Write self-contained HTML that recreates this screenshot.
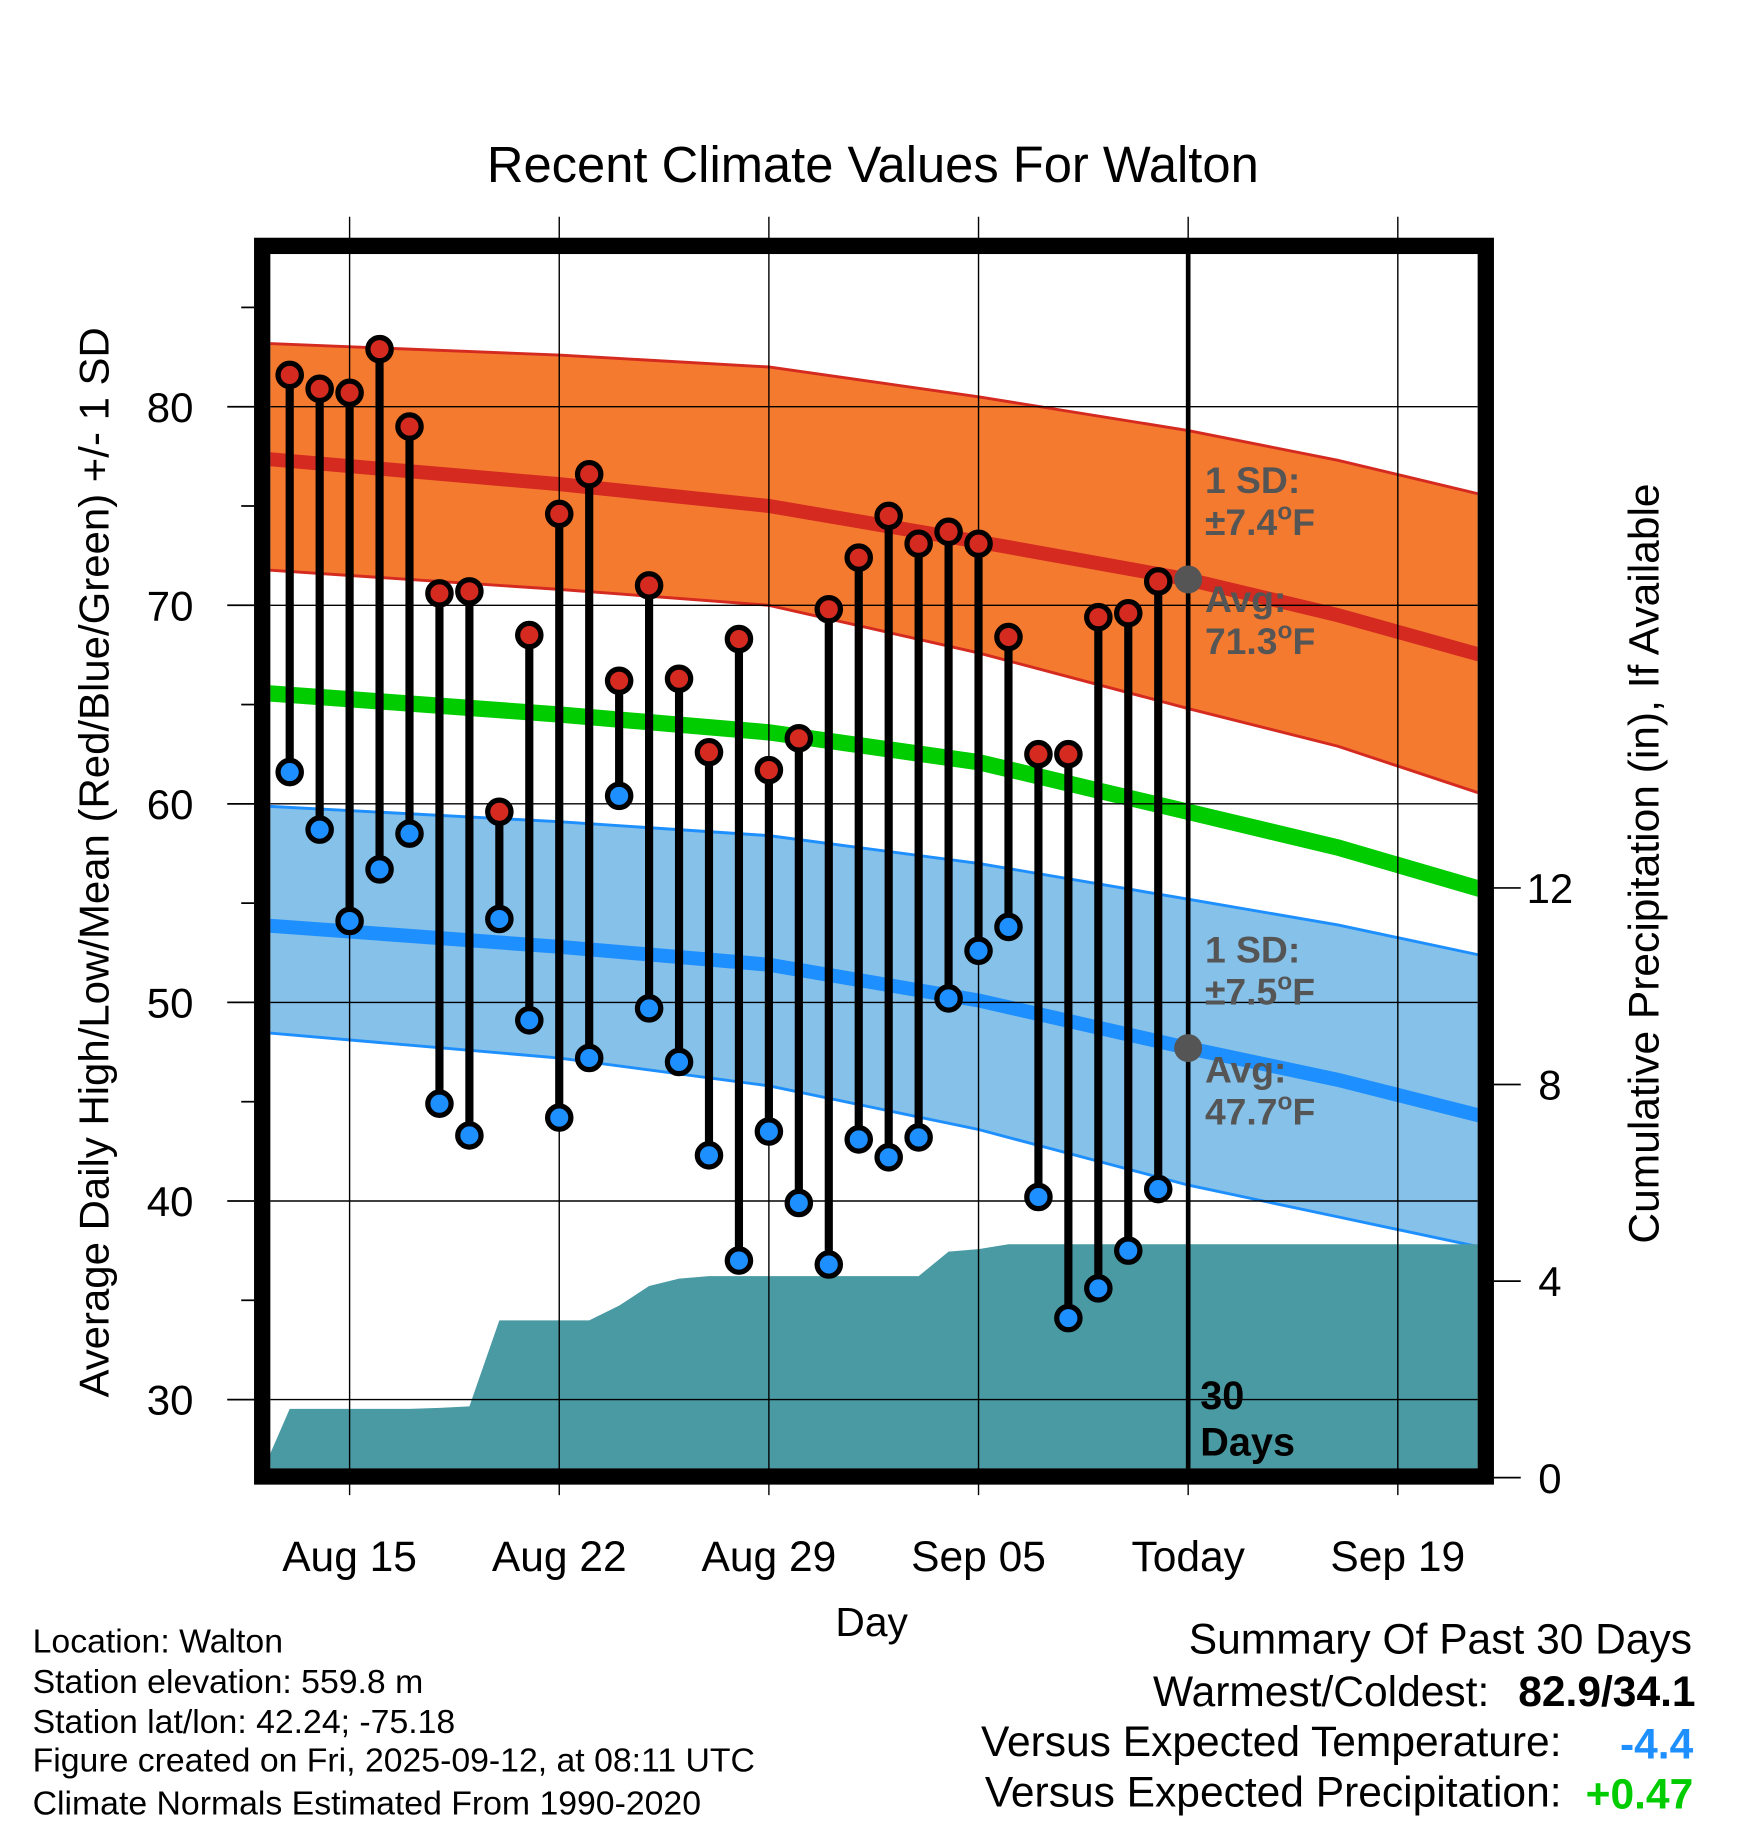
<!DOCTYPE html>
<html><head><meta charset="utf-8"><style>
html,body{margin:0;padding:0;background:#fff}
svg{display:block}
text{font-family:"Liberation Sans",Arial,sans-serif}
</style></head><body>
<svg id="chart" width="1748" height="1828" viewBox="0 0 1500 1568.65" xmlns="http://www.w3.org/2000/svg">
<defs><clipPath id="plotclip"><rect x="232" y="218" width="1036" height="1042"/></clipPath></defs>
<g id="layers"></g>
</svg>
<script>
// ---- data ----
const dayLabels = ["Aug 15","Aug 22","Aug 29","Sep 05","Today","Sep 19"];
const dayTickIdx = [3,10,17,24,31,38];          // days since Aug 12
const highs = [81.6,80.9,80.7,82.9,79.0,70.6,70.7,59.6,68.5,74.6,76.6,66.2,71.0,66.3,62.6,68.3,61.7,63.3,69.8,72.4,74.5,73.1,73.7,73.1,68.4,62.5,62.5,69.4,69.6,71.2];
const lows  = [61.6,58.7,54.1,56.7,58.5,44.9,43.3,54.2,49.1,44.2,47.2,60.4,49.7,47.0,42.3,37.0,43.5,39.9,36.8,43.1,42.2,43.2,50.2,52.6,53.8,40.2,34.1,35.6,37.5,40.6];
const precip = [1.4,1.4,1.4,1.4,1.4,1.42,1.45,3.2,3.2,3.2,3.2,3.5,3.9,4.05,4.1,4.1,4.1,4.1,4.1,4.1,4.1,4.1,4.6,4.65,4.75,4.75,4.75,4.75,4.75,4.75];
const normDays = [0,10,17,24,31,36,41];
const highAvg = [77.4,76.1,75.0,73.2,71.3,69.5,67.4];
const highUp  = [83.2,82.6,82.0,80.5,78.8,77.3,75.5];
const highLo  = [71.8,70.8,70.0,67.6,64.8,62.9,60.4];
const meanAvg = [65.6,64.5,63.6,62.1,59.6,57.8,55.6];
const lowAvg  = [53.9,52.8,51.9,50.1,47.7,46.1,44.2];
const lowUp   = [59.9,59.1,58.4,57.0,55.2,53.9,52.3];
const lowLo   = [48.5,47.2,45.8,43.6,40.8,39.2,37.6];
const yTicks = [30,40,50,60,70,80];
const pTicks = [0,4,8,12];

// ---- axes ----
const X = d => 300 + (d-3)*25.7;
const Y = v => 1201 - (v-30)*17.04;
const P = p => 1268 - p*42.17;
const NS = "http://www.w3.org/2000/svg";
const root = document.getElementById('layers');
function mk(tag, attrs, parent){const e=document.createElementNS(NS,tag);for(const k in attrs)e.setAttribute(k,attrs[k]);(parent||root).appendChild(e);return e;}
function txt(s, attrs, parent){const e=mk('text',attrs,parent);e.textContent=s;return e;}

const plot = mk('g',{'clip-path':'url(#plotclip)'});



function band(up, lo, fill, name){
  let pts = normDays.map((d,i)=>X(d)+','+Y(up[i]));
  pts = pts.concat(normDays.map((d,i)=>X(d)+','+Y(lo[i])).reverse());
  const e = mk('polygon',{points:pts.join(' '),fill:fill},plot);
  
  
}
function line(arr, stroke, w, name){
  const e = mk('polyline',{points:normDays.map((d,i)=>X(d)+','+Y(arr[i])).join(' '),fill:'none',stroke:stroke,'stroke-width':w},plot);
  
  
}
band(highUp,highLo,'#f47a2f','high-sd-band');
line(highUp,'#d42a20',2.5,'high-upper-line');
line(highLo,'#d42a20',2.5,'high-lower-line');
band(lowUp,lowLo,'#85c1e8','low-sd-band');
line(lowUp,'#1e8fff',2.5,'low-upper-line');
line(lowLo,'#1e8fff',2.5,'low-lower-line');

// precip area
{
  let pts = [X(0)+','+P(0)];
  precip.forEach((p,i)=>pts.push(X(i+1)+','+P(p)));
  pts.push(X(42)+','+P(precip[precip.length-1]));
  pts.push(X(42)+','+P(0)); pts.push(X(0)+','+P(0));
  const e = mk('polygon',{points:pts.join(' '),fill:'#4a9aa4'},plot);
  
  
}
// gridlines
yTicks.forEach(v=>{
  const g = mk('line',{x1:232,x2:1268,y1:Y(v),y2:Y(v),stroke:'#000','stroke-width':1.2});
  
  
});
dayTickIdx.forEach((d,i)=>{
  const g = mk('line',{x1:X(d),x2:X(d),y1:186,y2:1283,stroke:'#000','stroke-width':1.2});
  
  
  const t = txt(dayLabels[i],{x:X(d),y:1348,'font-size':36.5,'text-anchor':'middle'});
  
  
});
line(meanAvg,'#00cc00',14,'mean-normal-line');
line(highAvg,'#d42a20',12,'high-normal-line');
line(lowAvg,'#1e8fff',12,'low-normal-line');

// y ticks
yTicks.forEach(v=>{
  const t1 = mk('line',{x1:195,x2:218,y1:Y(v),y2:Y(v),stroke:'#000','stroke-width':1.5});
  
  
  const t = txt(String(v),{x:166,y:Y(v)+13,'font-size':36,'text-anchor':'end'});
  
  
});
[35,45,55,65,75,85].forEach(v=>{
  const t1 = mk('line',{x1:207,x2:218,y1:Y(v),y2:Y(v),stroke:'#000','stroke-width':1.5});
  
  
});
pTicks.forEach(p=>{
  const t1 = mk('line',{x1:1282,x2:1305,y1:P(p),y2:P(p),stroke:'#000','stroke-width':1.5});
  
  
  const t = txt(String(p),{x:1330,y:P(p)+13,'font-size':36,'text-anchor':'middle'});
  
  
});

// today line
{
  const e = mk('line',{x1:X(31),x2:X(31),y1:218,y2:1260,stroke:'#000','stroke-width':4});
  
  
}
// daily bars
highs.forEach((h,i)=>{
  const x = X(i+1);
  const g = mk('g',{});
  
  
  mk('line',{x1:x,x2:x,y1:Y(h),y2:Y(lows[i]),stroke:'#000','stroke-width':7},g);
  const c1 = mk('circle',{cx:x,cy:Y(h),r:10,fill:'#d42a20',stroke:'#000','stroke-width':4.5},g);
  
  
  const c2 = mk('circle',{cx:x,cy:Y(lows[i]),r:10,fill:'#1e8fff',stroke:'#000','stroke-width':4.5},g);
  
  
});
// today markers
[[highAvg[4],'today-high-avg-dot'],[lowAvg[4],'today-low-avg-dot']].forEach(a=>{
  const c = mk('circle',{cx:X(31),cy:Y(a[0]),r:12,fill:'#555'});
  
  
});
// annotations
function ann(lines, y0, name, color){
  const t = mk('text',{x:1034,y:y0,'font-size':32,'font-weight':'bold',fill:color||'#555'});
  
  
  lines.forEach((l,i)=>{const ts=mk('tspan',{x:1034,dy:i?36:0},t);ts.innerHTML=l;});
}
ann(['1 SD:','±7.4<tspan dy="-13" font-size="21">o</tspan><tspan dy="13">F</tspan>'],423,'high-sd-annotation');
ann(['Avg:','71.3<tspan dy="-13" font-size="21">o</tspan><tspan dy="13">F</tspan>'],525,'high-avg-annotation');
ann(['1 SD:','±7.5<tspan dy="-13" font-size="21">o</tspan><tspan dy="13">F</tspan>'],826,'low-sd-annotation');
ann(['Avg:','47.7<tspan dy="-13" font-size="21">o</tspan><tspan dy="13">F</tspan>'],929,'low-avg-annotation');
{
  const t = mk('text',{x:1030,y:1209,'font-size':34,'font-weight':'bold',fill:'#000'});
  
  
  mk('tspan',{x:1030,dy:0},t).textContent='30';
  mk('tspan',{x:1030,dy:40},t).textContent='Days';
}
// frame
{
  const e = mk('rect',{x:225,y:211,width:1050,height:1056,fill:'none',stroke:'#000','stroke-width':14});
  
  
}
</script>
<svg style="position:absolute;left:0;top:0" width="1748" height="1828" viewBox="0 0 1500 1568.65" xmlns="http://www.w3.org/2000/svg">
<text x="749" y="156" font-size="43.5" text-anchor="middle">Recent Climate Values For Walton</text>
<text transform="translate(93,740) rotate(-90)" font-size="36" text-anchor="middle">Average Daily High/Low/Mean (Red/Blue/Green) +/- 1 SD</text>
<text transform="translate(1423,741) rotate(-90)" font-size="36.5" text-anchor="middle">Cumulative Precipitation (in), If Available</text>
<text x="748" y="1404" font-size="35" text-anchor="middle">Day</text>
<g font-size="29">
<text x="28" y="1418">Location: Walton</text>
<text x="28" y="1453">Station elevation: 559.8 m</text>
<text x="28" y="1487">Station lat/lon: 42.24; -75.18</text>
<text x="28" y="1520">Figure created on Fri, 2025-09-12, at 08:11 UTC</text>
<text x="28" y="1557">Climate Normals Estimated From 1990-2020</text>
</g>
<g font-size="36.5" text-anchor="end">
<text x="1452" y="1419">Summary Of Past 30 Days</text>
<text x="1278" y="1464">Warmest/Coldest:</text>
<text x="1455" y="1464" font-weight="bold">82.9/34.1</text>
<text x="1340" y="1507">Versus Expected Temperature:</text>
<text x="1453" y="1509" font-weight="bold" fill="#1e8fff">-4.4</text>
<text x="1340" y="1550">Versus Expected Precipitation:</text>
<text x="1453" y="1552" font-weight="bold" fill="#00cc00">+0.47</text>
</g>
</svg>
</body></html>
